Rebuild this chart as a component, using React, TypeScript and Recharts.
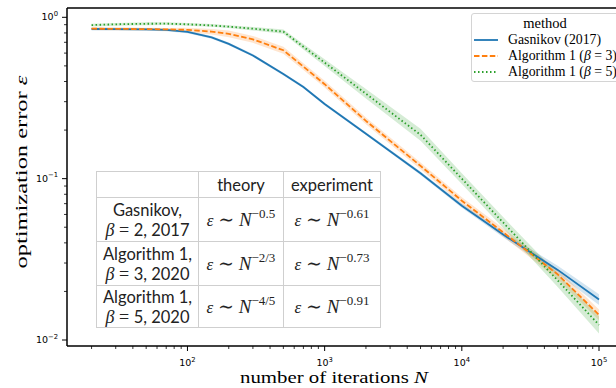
import { ComposedChart, Line, Area, XAxis, YAxis, Legend, ReferenceLine } from "recharts";

// iteration counts (x) and mean optimization error per method (y)
const N = [20, 30, 50, 70, 100, 150, 200, 300, 500, 700, 1000, 2000, 5000, 10000, 20000, 50000, 100000];
const GASNIKOV = [0.846, 0.845, 0.842, 0.836, 0.812, 0.75, 0.685, 0.58, 0.445, 0.37, 0.29, 0.19, 0.108, 0.068, 0.045, 0.0272, 0.0178];
const ALG_B3 = [0.85, 0.848, 0.845, 0.842, 0.836, 0.815, 0.79, 0.73, 0.625, 0.495, 0.385, 0.228, 0.12, 0.073, 0.0465, 0.0255, 0.0143];
const ALG_B5 = [0.895, 0.905, 0.912, 0.913, 0.905, 0.89, 0.875, 0.85, 0.815, 0.657, 0.524, 0.336, 0.187, 0.1, 0.0535, 0.0234, 0.0124];

// relative half-width of the shaded band around each line
const GASNIKOV_SPREAD = [0.02, 0.02, 0.02, 0.02, 0.02, 0.02, 0.02, 0.02, 0.02, 0.02, 0.02, 0.02, 0.025, 0.03, 0.04, 0.06, 0.08];
const ALG_B3_SPREAD = [0.02, 0.02, 0.02, 0.02, 0.03, 0.04, 0.05, 0.05, 0.05, 0.05, 0.05, 0.05, 0.05, 0.05, 0.06, 0.07, 0.08];
const ALG_B5_SPREAD = [0.02, 0.02, 0.02, 0.02, 0.02, 0.02, 0.02, 0.025, 0.03, 0.04, 0.05, 0.07, 0.09, 0.08, 0.08, 0.1, 0.13];

const X_DOMAIN: [number, number] = [13.24, 154700];
const Y_DOMAIN: [number, number] = [0.00918, 1.142];

const BLUE = "#1f77b4";
const ORANGE = "#ff7f0e";
const GREEN = "#2ca02c";

const SERIES = [
  { key: "g", name: "Gasnikov (2017)", color: BLUE, dash: undefined, values: GASNIKOV, spread: GASNIKOV_SPREAD },
  { key: "a3", name: "Algorithm 1 (β = 3)", color: ORANGE, dash: "5.5 2.4", values: ALG_B3, spread: ALG_B3_SPREAD },
  { key: "a5", name: "Algorithm 1 (β = 5)", color: GREEN, dash: "1.5 2.5", values: ALG_B5, spread: ALG_B5_SPREAD },
];

const TABLE_ROWS = [
  { method: "Gasnikov,", beta: "2", year: "2017", theory: "−0.5", experiment: "−0.61" },
  { method: "Algorithm 1,", beta: "3", year: "2020", theory: "−2/3", experiment: "−0.73" },
  { method: "Algorithm 1,", beta: "5", year: "2020", theory: "−4/5", experiment: "−0.91" },
];

const data = N.map((n, i) => {
  const row: Record<string, number | number[]> = { n };
  SERIES.forEach((s) => {
    const v = s.values[i];
    const w = s.spread[i];
    row[s.key] = v;
    row[s.key + "Band"] = [v / (1 + w), v * (1 + w)];
  });
  return row;
});

// log-axis tick positions: 1..9 times every power of ten inside the range
function logTicks(lo: number, hi: number) {
  const out: number[] = [];
  for (let e = -4; e <= 6; e++) {
    for (let m = 1; m < 10; m++) {
      const v = m * Math.pow(10, e);
      if (v >= lo && v <= hi) out.push(v);
    }
  }
  return out;
}

function decade(v: number) {
  const e = Math.round(Math.log10(v));
  return Math.abs(Math.log10(v) - e) < 1e-6 ? e : null;
}

function expText(e: number) {
  return e < 0 ? "−" + Math.abs(e) : String(e);
}

const TICK_FONT = "'DejaVu Sans', sans-serif";
const SERIF = "'Liberation Serif', 'DejaVu Serif', serif";

function XTick(props: any) {
  const { x, y, payload } = props;
  const e = decade(payload.value);
  return (
    <g>
      <line x1={x} x2={x} y1={y} y2={y + (e !== null ? 5 : 3)} stroke="#000" strokeWidth={e !== null ? 1 : 0.8} />
      {e !== null && (
        <text x={x} y={y + 20} textAnchor="middle" fontFamily={TICK_FONT} fontSize={9.5} fill="#000">
          10
          <tspan dy={-4.5} fontSize={6.8}>
            {expText(e)}
          </tspan>
        </text>
      )}
    </g>
  );
}

function YTick(props: any) {
  const { x, y, payload } = props;
  const e = decade(payload.value);
  return (
    <g>
      <line x1={x} x2={x - (e !== null ? 5 : 3)} y1={y} y2={y} stroke="#000" strokeWidth={e !== null ? 1 : 0.8} />
      {e !== null && (
        <text x={x - 9} y={y + 3} textAnchor="end" fontFamily={TICK_FONT} fontSize={9.5} fill="#000">
          10
          <tspan dy={-4.5} fontSize={6.8}>
            {expText(e)}
          </tspan>
        </text>
      )}
    </g>
  );
}

function LegendContent() {
  return (
    <div
      style={{
        position: "relative",
        width: 148,
        height: 69,
        border: "1px solid #d4d4d4",
        borderRadius: 3,
        background: "rgba(255,255,255,0.85)",
        fontFamily: SERIF,
        fontSize: 13.8,
        color: "#000",
        boxSizing: "border-box",
      }}
    >
      <div style={{ position: "absolute", top: 0, left: 0, width: 146, textAlign: "center", lineHeight: "19px", fontSize: 14.5 }}>
        method
      </div>
      {SERIES.map((s, i) => {
        const parts = s.name.split("β");
        return (
          <div key={s.key} style={{ position: "absolute", top: 18 + i * 16, left: 2, height: 16, display: "flex", alignItems: "center", whiteSpace: "nowrap" }}>
            <svg width={24} height={4} style={{ marginRight: 10 }}>
              <line x1={0} x2={24} y1={2} y2={2} stroke={s.color} strokeWidth={1.8} strokeDasharray={s.dash} />
            </svg>
            <span>
              {parts[0]}
              {parts.length > 1 && <i>β</i>}
              {parts[1]}
            </span>
          </div>
        );
      })}
    </div>
  );
}

const cellBorder = "1px solid #cfcfcf";

function MathPow({ exp }: { exp: string }) {
  return (
    <span style={{ fontFamily: SERIF, fontSize: 19, whiteSpace: "nowrap" }}>
      <i style={{ fontSize: 17 }}>ε</i> ∼ <i>N</i>
      <sup style={{ fontSize: 13, verticalAlign: 0, position: "relative", top: -8 }}>{exp}</sup>
    </span>
  );
}

function ResultTable() {
  const rowHeights = [44, 44, 42];
  return (
    <table
      style={{
        position: "absolute",
        left: 96,
        top: 171,
        borderCollapse: "collapse",
        fontFamily: "Lato, 'Noto Sans', sans-serif",
        fontSize: 16.5,
        color: "#222",
        background: "#fff",
      }}
    >
      <tbody>
        <tr style={{ height: 26 }}>
          <td style={{ border: cellBorder, width: 101, padding: 0 }} />
          <td style={{ border: cellBorder, width: 84, padding: 0, textAlign: "center" }}>theory</td>
          <td style={{ border: cellBorder, width: 96, padding: 0, textAlign: "center" }}>experiment</td>
        </tr>
        {TABLE_ROWS.map((r, i) => (
          <tr key={i} style={{ height: rowHeights[i] }}>
            <td style={{ border: cellBorder, padding: 0, textAlign: "center", lineHeight: "20px", whiteSpace: "nowrap" }}>
              {r.method}
              <br />
              <span style={{ fontFamily: SERIF, fontStyle: "italic", fontSize: 18 }}>β</span>
              <span style={{ fontFamily: SERIF, fontSize: 18 }}> = </span>
              {r.beta}, {r.year}
            </td>
            <td style={{ border: cellBorder, padding: 0, textAlign: "center" }}>
              <MathPow exp={r.theory} />
            </td>
            <td style={{ border: cellBorder, padding: 0, textAlign: "center" }}>
              <MathPow exp={r.experiment} />
            </td>
          </tr>
        ))}
      </tbody>
    </table>
  );
}

export default function App() {
  return (
    <div style={{ position: "absolute", left: 0, top: 0, width: 616, height: 388, overflow: "hidden", background: "#fff" }}>
      <ComposedChart width={630} height={388} data={data} margin={{ top: 8, right: 5, bottom: 0, left: 7 }}>
        <XAxis
          dataKey="n"
          type="number"
          scale="log"
          domain={X_DOMAIN}
          allowDataOverflow
          ticks={logTicks(X_DOMAIN[0], X_DOMAIN[1])}
          interval={0}
          tick={<XTick />}
          tickLine={false}
          tickSize={0}
          tickMargin={0}
          height={42}
          axisLine={{ stroke: "#000", strokeWidth: 1.5 }}
        />
        <YAxis
          type="number"
          scale="log"
          domain={Y_DOMAIN}
          allowDataOverflow
          ticks={logTicks(Y_DOMAIN[0], Y_DOMAIN[1])}
          interval={0}
          tick={<YTick />}
          tickLine={false}
          tickSize={0}
          tickMargin={0}
          width={60}
          axisLine={{ stroke: "#000", strokeWidth: 1.5 }}
        />
        <ReferenceLine y={Y_DOMAIN[1]} stroke="#000" strokeWidth={1.5} ifOverflow="visible" />
        {SERIES.map((s) => (
          <Area
            key={s.key + "Band"}
            dataKey={s.key + "Band"}
            stroke="none"
            fill={s.color}
            fillOpacity={0.2}
            legendType="none"
            isAnimationActive={false}
          />
        ))}
        {SERIES.map((s) => (
          <Line
            key={s.key}
            dataKey={s.key}
            name={s.name}
            type="linear"
            stroke={s.color}
            strokeWidth={1.8}
            strokeDasharray={s.dash}
            dot={false}
            isAnimationActive={false}
          />
        ))}
        <Legend
          layout="horizontal"
          verticalAlign="middle"
          align="center"
          content={() => <LegendContent />}
          wrapperStyle={{ left: 471, top: 13, width: 148, height: 69 }}
        />
        <text x={334} y={383} textAnchor="middle" fontFamily={SERIF} fontSize={17.5} textLength={188} lengthAdjust="spacingAndGlyphs" fill="#000">
          number of iterations <tspan fontStyle="italic">N</tspan>
        </text>
        <text
          x={27}
          y={172}
          textAnchor="middle"
          fontFamily={SERIF}
          fontSize={17.5}
          textLength={193}
          lengthAdjust="spacingAndGlyphs"
          fill="#000"
          transform="rotate(-90 27 172)"
        >
          optimization error <tspan fontStyle="italic">ε</tspan>
        </text>
      </ComposedChart>
      <ResultTable />
    </div>
  );
}
